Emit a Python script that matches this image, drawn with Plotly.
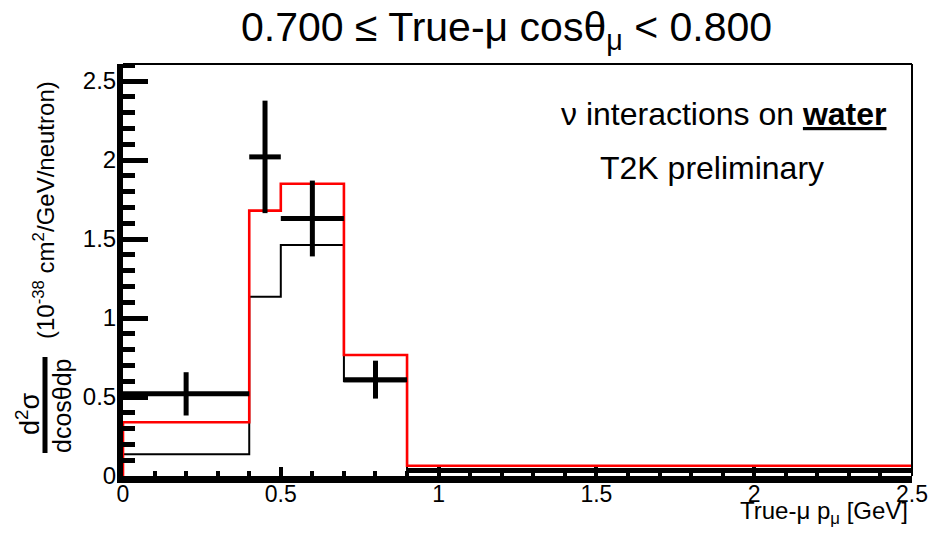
import plotly.graph_objects as go

# Bin edges in true muon momentum [GeV]; last bin runs off the displayed range
bin_edges = [0.0, 0.4, 0.5, 0.7, 0.9, 30.0]

# Measured cross section (10^-38 cm^2/GeV/neutron) with its uncertainty
data_xsec = [0.52, 2.02, 1.63, 0.61, 0.035]
data_err = [0.137, 0.356, 0.24, 0.12, 0.01]

# Model predictions
model_red = [0.34, 1.68, 1.85, 0.766, 0.065]
model_black = [0.137, 1.135, 1.462, 0.60, 0.03]

x_ticks = [0, 0.5, 1, 1.5, 2, 2.5]
x_ticklabels = ["0", "0.5", "1", "1.5", "2", "2.5"]
y_ticks = [0, 0.5, 1, 1.5, 2, 2.5]
y_ticklabels = ["0", "0.5", "1", "1.5", "2", "2.5"]

W, H = 929, 534
ML, MR, MT, MB = 123, 17, 64, 58
PW, PH = W - ML - MR, H - MT - MB
Y_MAX = 2.608
FONT = "Liberation Sans, Arial, Helvetica, sans-serif"


def px(xp):
    return (xp - ML) / PW


def py(yp):
    return (H - MB - yp) / PH


def step_xy(edges, vals):
    xs = list(edges)
    ys = list(vals) + [vals[-1]]
    # drop to zero at the outer edges like a histogram outline
    return [edges[0]] + xs + [edges[-1]], [0] + ys + [0]


centers = [(a + b) / 2 for a, b in zip(bin_edges[:-1], bin_edges[1:])]
half_w = [(b - a) / 2 for a, b in zip(bin_edges[:-1], bin_edges[1:])]

fig = go.Figure()

bx, by = step_xy(bin_edges, model_black)
fig.add_trace(go.Scatter(x=bx, y=by, mode="lines", line=dict(color="black", width=2, shape="hv"),
                         hoverinfo="skip", showlegend=False))
rx, ry = step_xy(bin_edges, model_red)
fig.add_trace(go.Scatter(x=rx, y=ry, mode="lines", line=dict(color="#ff0000", width=2.6, shape="hv"),
                         hoverinfo="skip", showlegend=False))
fig.add_trace(go.Scatter(
    x=centers, y=data_xsec, mode="markers",
    marker=dict(size=1, color="black"),
    error_y=dict(type="data", array=data_err, thickness=5, width=0, color="black"),
    error_x=dict(type="data", array=half_w, thickness=5, width=0, color="black"),
    showlegend=False,
))

fig.update_layout(
    width=W, height=H,
    margin=dict(l=ML, r=MR, t=MT, b=MB, autoexpand=False),
    paper_bgcolor="white", plot_bgcolor="white",
    font=dict(family=FONT, color="black"),
    xaxis=dict(
        range=[0, 2.5], showgrid=False, zeroline=False, automargin=False,
        showline=True, linewidth=7, linecolor="black",
        tickmode="array", tickvals=x_ticks, ticktext=x_ticklabels,
        ticks="inside", ticklen=9, tickwidth=4, tickcolor="black",
        minor=dict(ticks="inside", dtick=0.1, tick0=0, ticklen=5, tickwidth=4, tickcolor="black", showgrid=False),
        tickfont=dict(size=23, family=FONT),
        ticklabelstandoff=-9,
    ),
    yaxis=dict(
        range=[0, Y_MAX], showgrid=False, zeroline=False, automargin=False,
        showline=True, linewidth=6, linecolor="black",
        tickmode="array", tickvals=y_ticks, ticktext=y_ticklabels,
        ticks="inside", ticklen=25, tickwidth=5, tickcolor="black",
        minor=dict(ticks="inside", dtick=0.1, tick0=0, ticklen=12, tickwidth=5, tickcolor="black", showgrid=False),
        tickfont=dict(size=24, family=FONT),
        ticklabelstandoff=-4,
    ),
)

# thin top and right frame
fig.add_shape(type="line", xref="paper", yref="paper", x0=0, x1=1, y0=1, y1=1,
              line=dict(color="black", width=2))
fig.add_shape(type="line", xref="paper", yref="paper", x0=1, x1=1, y0=0, y1=1,
              line=dict(color="black", width=2))

# y-axis title: fraction d2sigma / dcos(theta)dp followed by units
fig.add_shape(type="line", xref="paper", yref="paper", x0=px(45), x1=px(45), y0=py(357), y1=py(453),
              line=dict(color="black", width=5))

ann = []
ann.append(dict(text="d<sup>2</sup>σ", x=px(28), y=py(414), textangle=-90, font=dict(size=27)))
ann.append(dict(text="dcosθdp", x=px(62), y=py(406), textangle=-90, font=dict(size=25)))
ann.append(dict(text="(10<sup>-38</sup> cm<sup>2</sup>/GeV/neutron)", x=px(44), y=py(210),
                textangle=-90, font=dict(size=24)))
# title
ann.append(dict(text="0.700 ≤ True-μ cosθ<sub>μ</sub> < 0.800", x=px(506), y=py(30), font=dict(size=41)))
# x-axis title
ann.append(dict(text="True-μ p<sub>μ</sub> [GeV]", x=px(910), y=py(512), xanchor="right", font=dict(size=24)))
# labels inside the frame
ann.append(dict(text="ν interactions on <b><u>water</u></b>", x=px(724), y=py(114), font=dict(size=32)))
ann.append(dict(text="T2K preliminary", x=px(712), y=py(168), font=dict(size=32)))

for a in ann:
    a.setdefault("xanchor", "center")
    a.setdefault("yanchor", "middle")
    fig.add_annotation(xref="paper", yref="paper", showarrow=False, **a)

fig.write_html("out.html")
